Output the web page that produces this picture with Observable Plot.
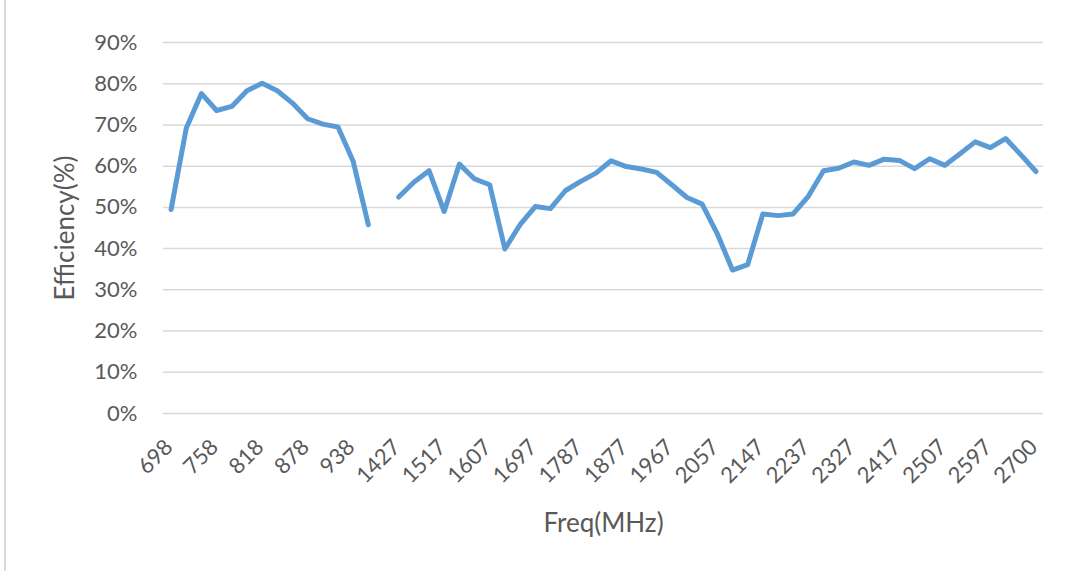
<!DOCTYPE html>
<html>
<head>
<meta charset="utf-8">
<script src="https://cdn.jsdelivr.net/npm/d3@7"></script>
<script src="https://cdn.jsdelivr.net/npm/@observablehq/plot@0.6"></script>
<style>
  html, body { margin: 0; padding: 0; background: #fff; }
  #wrap { position: relative; width: 1075px; height: 571px; }
  #border { position: absolute; left: 4px; top: 0; width: 2px; height: 571px; background: #d9d9d9; }
</style>
</head>
<body>
<div id="wrap"><div id="border"></div><div id="chart"></div></div>
<script>
const categories = [
  "698","718","738","758","778","798","818","838","858","878","898","918","938","958",
  "",
  "1427","1457","1487","1517","1547","1577","1607","1637","1667","1697","1727","1757","1787","1817",
  "1847","1877","1907","1937","1967","1997","2027","2057","2087","2117","2147","2177","2207","2237",
  "2267","2297","2327","2357","2387","2417","2447","2477","2507","2537","2567","2597","2627","2657","2700"
];
const efficiency = [
  49.5, 69.2, 77.6, 73.5, 74.5, 78.3, 80.1, 78.3, 75.3, 71.5, 70.2, 69.5, 61.2, 45.8,
  null,
  52.5, 56.1, 58.9, 49.0, 60.5, 56.9, 55.5, 39.9, 45.8, 50.2, 49.7, 54.1, 56.3, 58.3,
  61.3, 59.9, 59.3, 58.5, 55.5, 52.4, 50.8, 43.6, 34.8, 36.1, 48.4, 48.0, 48.4, 52.7,
  58.9, 59.5, 61.0, 60.2, 61.7, 61.4, 59.4, 61.8, 60.2, 63.0, 65.9, 64.5, 66.7, 62.8, 58.7
];
const xTickLabels = ["698","758","818","878","938","1427","1517","1607","1697","1787","1877",
  "1967","2057","2147","2237","2327","2417","2507","2597","2700"];
const yTicks = [0, 10, 20, 30, 40, 50, 60, 70, 80, 90];

const data = categories.map((c, i) => ({freq: c, eff: efficiency[i]}));
const font = "Lato, 'Open Sans', sans-serif";

const chart = Plot.plot({
  width: 1075,
  height: 571,
  marginLeft: 163,
  marginRight: 32,
  marginTop: 42,
  marginBottom: 158,
  style: {fontFamily: font, fontSize: "22px", color: "#595959", background: "transparent"},
  x: {type: "point", domain: categories, padding: 0.5, round: false},
  y: {domain: [0, 90]},
  marks: [
    Plot.gridY(yTicks, {stroke: "#d9d9d9", strokeOpacity: 1, strokeWidth: 1.5}),
    Plot.axisY(yTicks, {tickSize: 0, tickPadding: 26, tickFormat: d => d + "%",
      label: null, fontSize: 22, fill: "#595959"}),
    Plot.axisY({ticks: [], label: "Efficiency(%)", labelAnchor: "center", labelArrow: "none",
      labelOffset: 108, fontSize: 26, fill: "#595959"}),
    Plot.axisX(xTickLabels, {tickSize: 0, tickRotate: -45, tickPadding: 30, dx: -2,
      label: null, fontSize: 22, fill: "#595959"}),
    Plot.axisX({ticks: [], label: "Freq(MHz)", labelAnchor: "center", labelArrow: "none",
      labelOffset: 118, fontSize: 26, fill: "#595959"}),
    Plot.lineY(data, {x: "freq", y: "eff", stroke: "#5b9bd5", strokeWidth: 5,
      strokeLinejoin: "round", strokeLinecap: "round"})
  ]
});
document.getElementById("chart").appendChild(chart);
</script>
</body>
</html>
